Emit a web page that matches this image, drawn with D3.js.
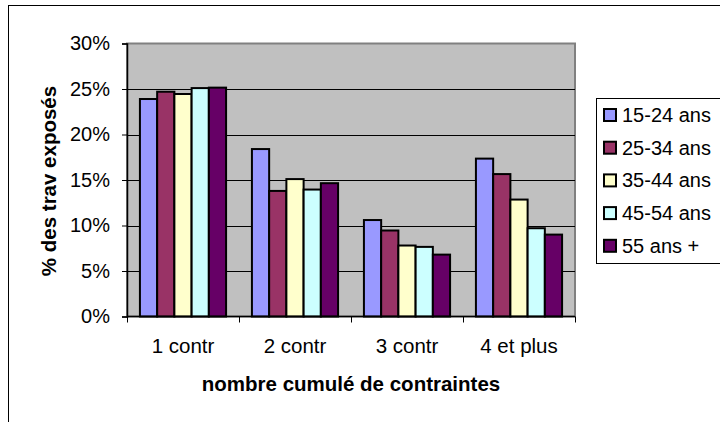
<!DOCTYPE html>
<html>
<head>
<meta charset="utf-8">
<script src="https://cdn.jsdelivr.net/npm/d3@7"></script>
<style>
  body { margin: 0; background: #fff; }
  svg { display: block; font-family: Arial, "Liberation Sans", sans-serif; }
</style>
</head>
<body>
<svg id="chart" width="720" height="422"></svg>
<script>
// data
var categories = ['1 contr', '2 contr', '3 contr', '4 et plus'];
var series = ['15-24 ans', '25-34 ans', '35-44 ans', '45-54 ans', '55 ans +'];
var colors = ['#9999FF', '#993366', '#FFFFCC', '#CCFFFF', '#660066'];
// values in %, one array per age group
var v1524 = [23.9, 18.4, 10.6, 17.35];
var v2534 = [24.7, 13.8, 9.45, 15.65];
var v3544 = [24.45, 15.1, 7.8, 12.85];
var v4554 = [25.1, 13.95, 7.65, 9.7];
var v55 = [25.15, 14.65, 6.8, 9.0];
var values = [v1524, v2534, v3544, v4554, v55];
var yTicks = [0, 5, 10, 15, 20, 25, 30];

var svg = d3.select('#chart');

// outer frame of the chart
svg.append('rect')
  .attr('x', 8.5).attr('y', 5.5)
  .attr('width', 730).attr('height', 430)
  .attr('fill', '#fff').attr('stroke', '#000').attr('stroke-width', 1);

// (not "top": that name is taken by window.top)
var pLeft = 127, pRight = 575, pTop = 43.5, pBottom = 316.5;

var x0 = d3.scaleBand()
  .domain(categories)
  .range([pLeft, pRight])
  .padding(0);

var x1 = d3.scaleBand()
  .domain(series)
  .range([0, x0.bandwidth()])
  .paddingInner(0)
  .paddingOuter(0.75);

var y = d3.scaleLinear()
  .domain([0, 30])
  .range([pBottom, pTop]);

// plot area
svg.append('rect')
  .attr('x', pLeft).attr('y', pTop)
  .attr('width', pRight - pLeft).attr('height', pBottom - pTop)
  .attr('fill', '#C0C0C0')
  .attr('stroke', '#808080').attr('stroke-width', 2);

// grid
svg.append('g')
  .selectAll('line')
  .data(yTicks.filter(d => d > 0 && d < 30))
  .enter().append('line')
  .attr('x1', pLeft).attr('x2', pRight)
  .attr('y1', d => Math.round(y(d)) + 0.5)
  .attr('y2', d => Math.round(y(d)) + 0.5)
  .attr('stroke', '#000').attr('stroke-width', 1);

// bars
var groups = svg.append('g')
  .selectAll('g')
  .data(categories)
  .enter().append('g')
  .attr('transform', d => 'translate(' + x0(d) + ',0)');

groups.selectAll('rect')
  .data((d, i) => series.map((s, j) => ({ s: s, j: j, v: values[j][i] })))
  .enter().append('rect')
  .attr('x', d => x1(d.s))
  .attr('y', d => y(d.v))
  .attr('width', x1.bandwidth())
  .attr('height', d => pBottom - y(d.v))
  .attr('fill', d => colors[d.j])
  .attr('stroke', '#000')
  .attr('stroke-width', 2);

// y axis
var yAxis = d3.axisLeft(y)
  .tickValues(yTicks)
  .tickSize(5)
  .tickPadding(12)
  .tickFormat(d => d + '%');

var gy = svg.append('g')
  .attr('transform', 'translate(' + pLeft + ',0)')
  .call(yAxis);
gy.select('.domain').attr('stroke', '#000').attr('stroke-width', 1.5);
gy.selectAll('.tick line').attr('stroke', '#000');
gy.selectAll('.tick text')
  .attr('font-size', '20px')
  .attr('fill', '#000')
  .attr('font-family', 'Arial, "Liberation Sans", sans-serif');

// x axis
svg.append('line')
  .attr('x1', pLeft).attr('x2', pRight)
  .attr('y1', pBottom).attr('y2', pBottom)
  .attr('stroke', '#000').attr('stroke-width', 1.5);

var bounds = categories.map(c => x0(c)).concat([pRight]);
svg.append('g')
  .selectAll('line')
  .data(bounds)
  .enter().append('line')
  .attr('x1', d => d + 0.5).attr('x2', d => d + 0.5)
  .attr('y1', pBottom).attr('y2', pBottom + 6)
  .attr('stroke', '#000');

svg.append('g')
  .selectAll('text')
  .data(categories)
  .enter().append('text')
  .attr('x', d => x0(d) + x0.bandwidth() / 2)
  .attr('y', 353)
  .attr('text-anchor', 'middle')
  .attr('font-size', '20.5px')
  .text(d => d);

// axis titles
svg.append('text')
  .attr('x', 351)
  .attr('y', 391)
  .attr('text-anchor', 'middle')
  .attr('font-size', '20.5px')
  .attr('font-weight', 'bold')
  .text('nombre cumulé de contraintes');

svg.append('text')
  .attr('transform', 'translate(56,181) rotate(-90)')
  .attr('text-anchor', 'middle')
  .attr('font-size', '20.5px')
  .attr('font-weight', 'bold')
  .text('% des trav exposés');

// legend
var legend = svg.append('g');
legend.append('rect')
  .attr('x', 596.5).attr('y', 98.5)
  .attr('width', 140).attr('height', 165)
  .attr('fill', '#fff').attr('stroke', '#000');

var item = legend.selectAll('g')
  .data(series)
  .enter().append('g')
  .attr('transform', (d, i) => 'translate(0,' + (115 + i * 32.7) + ')');

item.append('rect')
  .attr('x', 604).attr('y', -6)
  .attr('width', 12).attr('height', 12)
  .attr('fill', (d, i) => colors[i])
  .attr('stroke', '#000').attr('stroke-width', 2);

item.append('text')
  .attr('x', 622)
  .attr('y', 7)
  .attr('font-size', '20px')
  .text(d => d);
</script>
</body>
</html>
